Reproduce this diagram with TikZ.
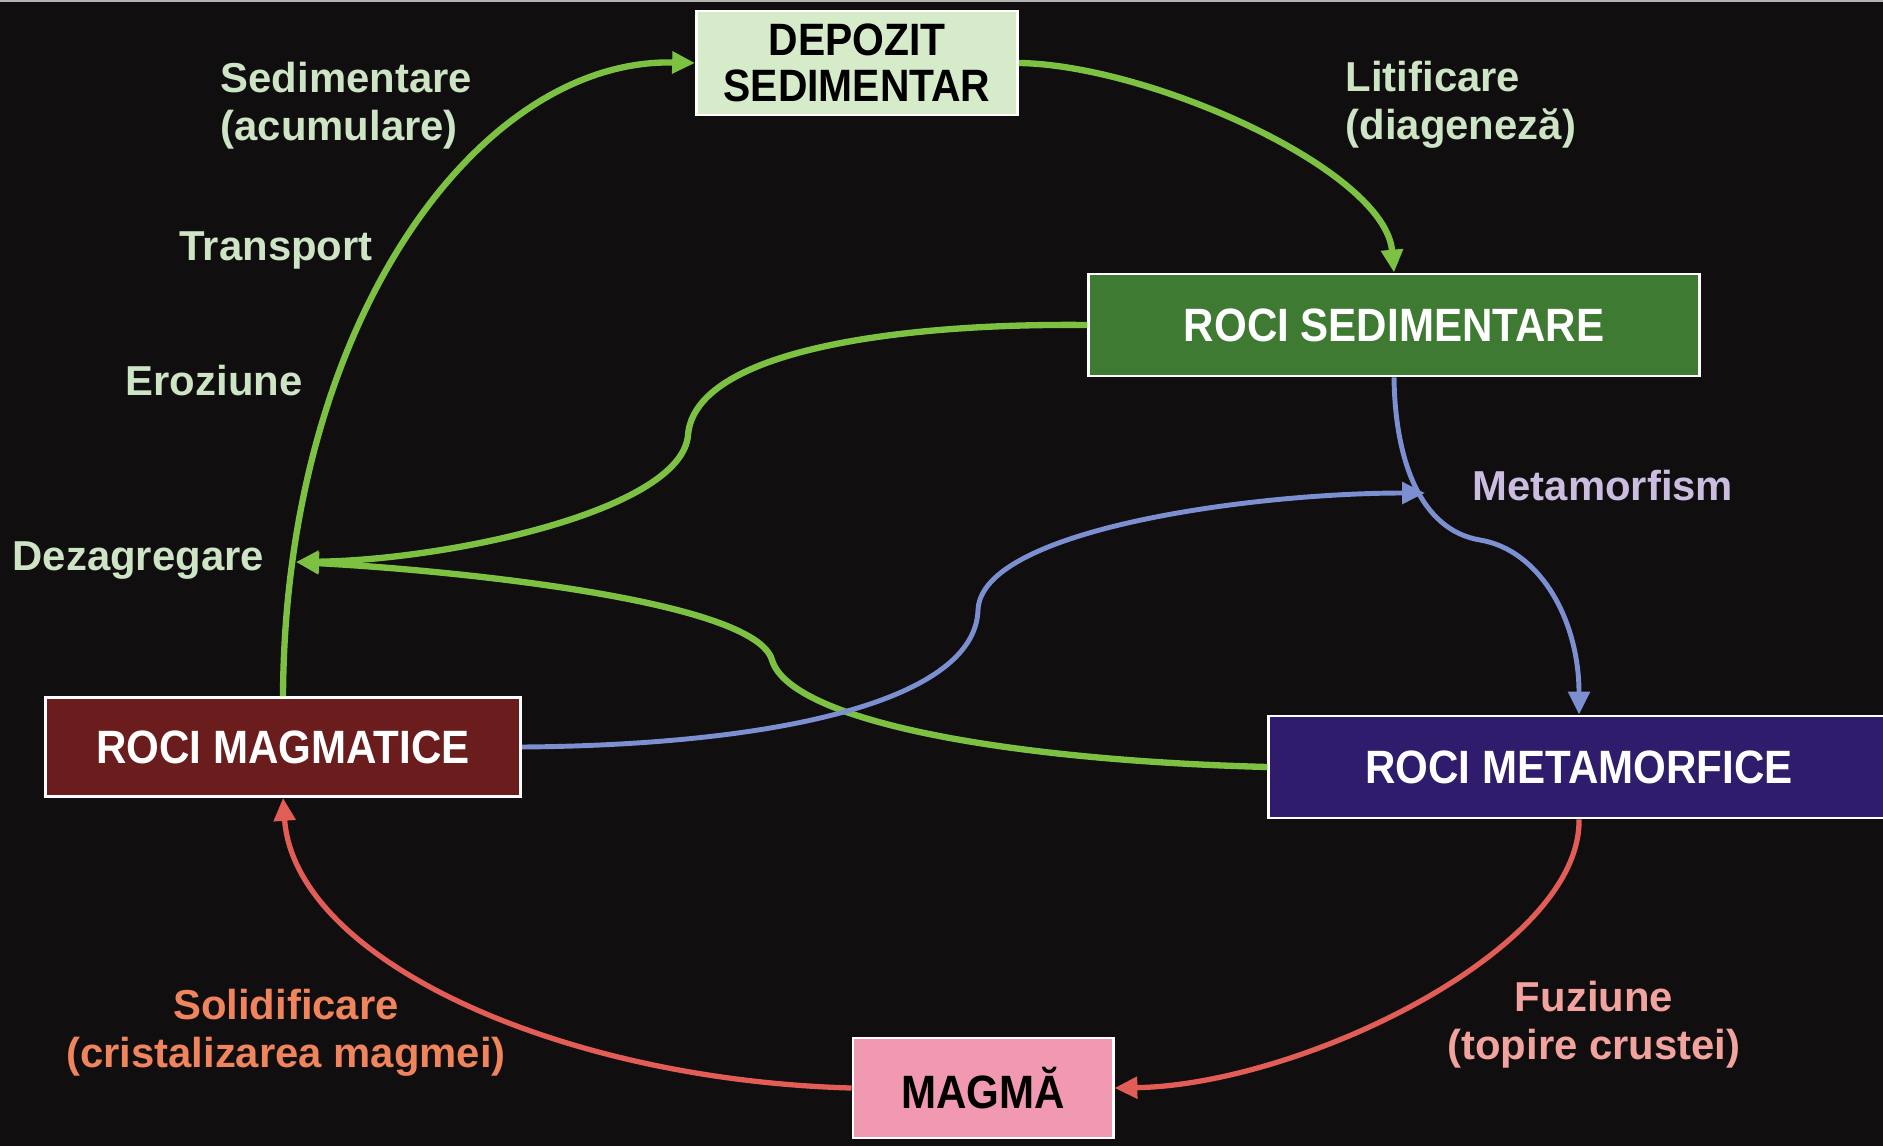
\documentclass[tikz,border=0pt]{standalone}
\usepackage{fontspec}
\setmainfont{Liberation Sans}
\newfontfamily\boxfont{Liberation Sans}[FakeStretch=0.9]
\usetikzlibrary{arrows.meta}
\definecolor{fundal}{HTML}{110E0F}
\definecolor{verdedeschis}{HTML}{D5EBC9}
\definecolor{verdeinchis}{HTML}{3F7A32}
\definecolor{rosuinchis}{HTML}{6B1D1D}
\definecolor{violet}{HTML}{2F1C6C}
\definecolor{roz}{HTML}{F199B0}
\definecolor{linieverde}{HTML}{7DC142}
\definecolor{linieblue}{HTML}{7B8FD1}
\definecolor{linierosie}{HTML}{E25D55}
\definecolor{textverde}{HTML}{CDE5C5}
\definecolor{textmov}{HTML}{CBBDE0}
\definecolor{textportocaliu}{HTML}{F0845C}
\definecolor{textroz}{HTML}{F2A39E}
\tikzset{
  cutie/.style={draw=white, line width=0.8pt, align=center, inner sep=0pt,
    font=\boxfont\bfseries\fontsize{13.3}{13}\selectfont},
  eticheta/.style={inner sep=0pt, font=\bfseries\fontsize{11.9}{13.6}\selectfont},
  varf/.style={-{Triangle[length=6.5pt,width=6pt]}},
  verde/.style={draw=linieverde, line width=1.8pt, varf},
  albastru/.style={draw=linieblue, line width=1.4pt, varf},
  rosu/.style={draw=linierosie, line width=1.5pt, varf}
}
\begin{document}
\begin{tikzpicture}[x=0.01cm,y=-0.01cm]
\useasboundingbox (0,0) rectangle (1883,1146);
\fill[fundal] (0,0) rectangle (1883,1146);
\draw[gray!60, line width=0.4pt] (0,1) -- (1883,1);

\node[cutie, fill=verdedeschis, text=black, minimum width=3.21cm, minimum height=1.04cm,
  font=\boxfont\bfseries\fontsize{12.9}{13.2}\selectfont] (dep) at (857,63) {DEPOZIT\\SEDIMENTAR};
\node[cutie, fill=verdeinchis, text=white, minimum width=6.10cm, minimum height=1.02cm] (sed) at (1394,325) {ROCI SEDIMENTARE};
\node[cutie, fill=rosuinchis, text=white, minimum width=4.75cm, minimum height=0.99cm] (mag) at (283,747) {ROCI MAGMATICE};
\node[cutie, fill=violet, text=white, minimum width=6.20cm, minimum height=1.02cm] (met) at (1579,767) {ROCI METAMORFICE};
\node[cutie, fill=roz, text=black, minimum width=2.60cm, minimum height=1.00cm] (magma) at (983,1088) {MAGMĂ};

\coordinate (dez) at (296,562);
\coordinate (metam) at (1425,493);

\node[eticheta, text=textverde, anchor=west, align=left] (lsed) at (220,106) {Sedimentare\\(acumulare)};
\node[eticheta, text=textverde, anchor=west] (ltr) at (179,250) {Transport};
\node[eticheta, text=textverde, anchor=west] (ler) at (125,381) {Eroziune};
\node[eticheta, text=textverde, anchor=west] (ldez) at (12,561) {Dezagregare};
\node[eticheta, text=textverde, anchor=west, align=left] (llit) at (1345,105) {Litificare\\(diageneză)};
\node[eticheta, text=textmov, anchor=west] (lmet) at (1472,486) {Metamorfism};
\node[eticheta, text=textroz, align=center] (lfuz) at (1594,1025) {Fuziune\\(topire crustei)};
\node[eticheta, text=textportocaliu, align=center] (lsol) at (286,1033) {Solidificare\\(cristalizarea magmei)};

\draw[verde] (mag.north) .. controls (285,320) and (480,58) .. (dep.west);
\draw[verde] (dep.east) .. controls (1150,65) and (1385,170) .. (sed.north);
\draw[verde] (sed.west) .. controls (900,323) and (695,350) .. (688,435)
  .. controls (682,510) and (450,560) .. (dez);
\draw[verde] (met.west) .. controls (1000,760) and (790,720) .. (772,660)
  .. controls (755,600) and (450,570) .. (dez);

\draw[albastru] (mag.east) .. controls (780,745) and (975,700) .. (978,610)
  .. controls (981,530) and (1250,493) .. (metam);
\draw[albastru] (sed.south) .. controls (1395,460) and (1420,530) .. (1480,540)
  .. controls (1540,550) and (1579,620) .. (met.north);

\draw[rosu] (met.south) .. controls (1581,950) and (1300,1085) .. (magma.east);
\draw[rosu] (magma.west) .. controls (560,1080) and (295,960) .. (mag.south);
\end{tikzpicture}
\end{document}
